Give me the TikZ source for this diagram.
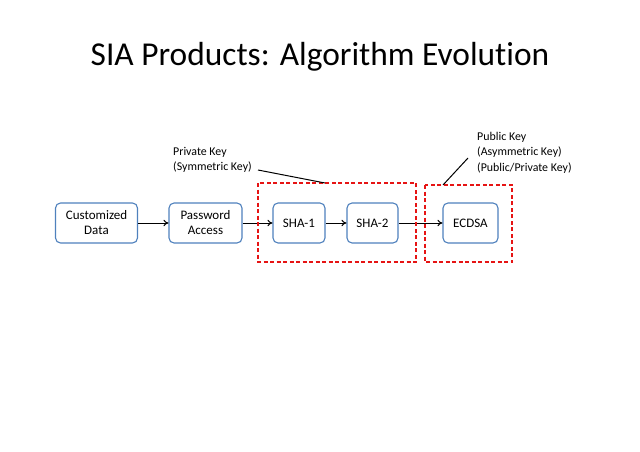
\documentclass[tikz,border=0pt]{standalone}
\usepackage{fontspec}
\setmainfont{Carlito}[Ligatures=NoCommon]
\usetikzlibrary{arrows.meta}
\definecolor{boxblue}{RGB}{79,129,189}
\definecolor{dashred}{RGB}{230,20,20}
\begin{document}
\begin{tikzpicture}[x=1pt,y=-1pt,
  procbox/.style={draw=boxblue,line width=1.1pt,rounded corners=5pt,fill=white,
    minimum height=40pt,align=center,font=\fontsize{13}{15}\selectfont,inner sep=0pt},
  flow/.style={-{To[length=5pt,width=6.5pt]},line width=1pt},
  group/.style={draw=dashred,line width=1.6pt,dash pattern=on 4pt off 2.5pt},
  callout/.style={align=left,anchor=north west,font=\fontsize{11.9}{15.5}\selectfont,inner sep=0pt},
  leader/.style={line width=1pt}]
\useasboundingbox (0,0) rectangle (640,452);
\node (title) at (320,57) {\fontsize{33.4}{38}\selectfont SIA Products: Algorithm Evolution};
\node[procbox,minimum width=82pt] (cust) at (96.5,223) {Customized\\Data};
\node[procbox,minimum width=73pt] (pass) at (205.5,223) {Password\\Access};
\node[procbox,minimum width=52pt] (sha1) at (299,223) {SHA-1};
\node[procbox,minimum width=51pt] (sha2) at (372.5,223) {SHA-2};
\node[procbox,minimum width=55pt] (ecdsa) at (470.5,223) {ECDSA};
\draw[flow] (cust) -- (pass);
\draw[flow] (pass) -- (sha1);
\draw[flow] (sha1) -- (sha2);
\draw[flow] (sha2) -- (ecdsa);
\draw[group] (258,183) rectangle (416,262);
\draw[group] (425,185) rectangle (512,262);
\node[callout] (privtxt) at (173,147) {Private Key\\(Symmetric Key)};
\node[callout] (pubtxt) at (477,132) {Public Key\\(Asymmetric Key)\\(Public/Private Key)};
\coordinate (privA) at (258,170);
\coordinate (privB) at (325,183);
\coordinate (pubA) at (468,158);
\coordinate (pubB) at (443,185);
\draw[leader] (privA) -- (privB);
\draw[leader] (pubA) -- (pubB);
\end{tikzpicture}
\end{document}
